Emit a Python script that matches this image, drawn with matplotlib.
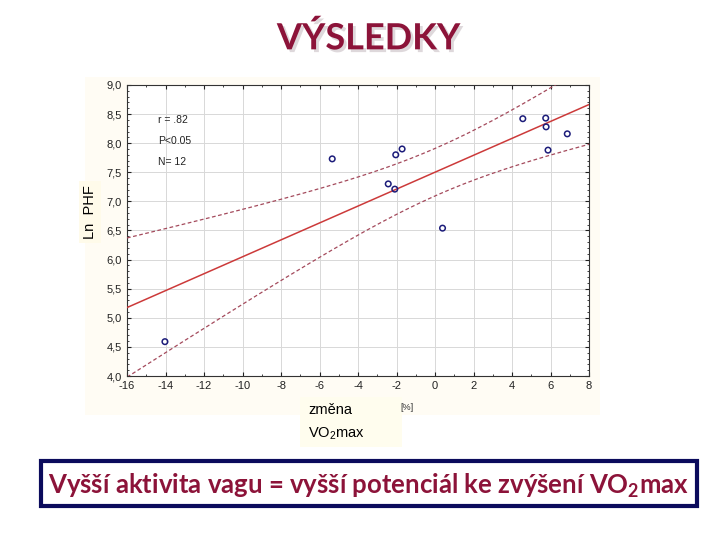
"""Scatter of Ln PHF vs change of VO2max with regression line and 95% CI."""

import matplotlib

matplotlib.use("Agg")
import matplotlib.patheffects as pe
import matplotlib.pyplot as plt
import numpy as np
from matplotlib.patches import Rectangle
from matplotlib.ticker import FuncFormatter, MultipleLocator

plt.rcParams["axes.unicode_minus"] = False
plt.rcParams["mathtext.fontset"] = "custom"
plt.rcParams["mathtext.rm"] = "Liberation Sans"
plt.rcParams["mathtext.bf"] = "Lato:bold"

# data
vo2_change = [4.56, 5.75, 5.77, 6.87, 5.87, -1.71, -2.04, -5.34, -2.43, -2.09, 0.39, -14.03]
ln_phf = [8.42, 8.43, 8.28, 8.16, 7.88, 7.90, 7.80, 7.73, 7.30, 7.21, 6.54, 4.59]
stats_lines = ["r = .82", "P<0.05", "N= 12"]

TITLE_COLOR = "#8c1339"
NAVY = "#0b0b5c"

x = np.array(vo2_change)
y = np.array(ln_phf)
n = len(x)
slope, intercept = np.polyfit(x, y, 1)
resid = y - (slope * x + intercept)
s = np.sqrt(np.sum(resid ** 2) / (n - 2))
sxx = np.sum((x - x.mean()) ** 2)
t_crit = 2.228  # t(0.975, 10)

xs = np.linspace(-16, 8, 200)
fit = slope * xs + intercept
half = t_crit * s * np.sqrt(1 / n + (xs - x.mean()) ** 2 / sxx)

fig = plt.figure(figsize=(7.2, 5.4), dpi=100)
fig.patch.set_facecolor("white")

# cream panel behind the chart
fig.patches.append(
    Rectangle((0.118, 0.231), 0.715, 0.627, transform=fig.transFigure,
              facecolor="#fffcf4", edgecolor="none", zorder=0)
)

ax = fig.add_axes([0.1764, 0.3037, 0.6417, 0.539])
ax.set_zorder(2)
ax.set_facecolor("white")
ax.plot(xs, fit, color="#cc3a3a", linewidth=1.1, zorder=3)
ax.plot(xs, fit + half, color="#a44a5c", linewidth=0.9, linestyle=(0, (3, 2)), zorder=3)
ax.plot(xs, fit - half, color="#a44a5c", linewidth=0.9, linestyle=(0, (3, 2)), zorder=3)
ax.scatter(x, y, s=16, facecolors="none", edgecolors="#1c1c7a", linewidths=1.1, zorder=4)

ax.set_xlim(-16, 8)
ax.set_ylim(4.0, 9.0)
ax.xaxis.set_major_locator(MultipleLocator(2))
ax.xaxis.set_minor_locator(MultipleLocator(1))
ax.yaxis.set_major_locator(MultipleLocator(0.5))
ax.yaxis.set_minor_locator(MultipleLocator(0.1))
ax.yaxis.set_major_formatter(FuncFormatter(lambda v, _: f"{v:.1f}".replace(".", ",")))
ax.tick_params(which="both", direction="in", top=True, right=True,
               labelsize=8, colors="#222222", length=3)
ax.tick_params(which="minor", length=1.5)
for label in ax.get_xticklabels() + ax.get_yticklabels():
    label.set_family("Liberation Sans")
ax.grid(True, which="major", color="#d8d8d8", linewidth=0.7)
ax.set_axisbelow(True)
for spine in ax.spines.values():
    spine.set_color("#333333")
    spine.set_linewidth(0.8)

for i, line in enumerate(stats_lines):
    ax.text(-14.4, 8.40 - i * 0.36, line, fontsize=7.5, family="Liberation Sans",
            va="center", ha="left", color="#222222")

# axis labels placed as on the slide
fig.text(0.1250, 0.607, "Ln  PHF", rotation=90, ha="center", va="center",
         fontsize=10.5, family="Liberation Sans",
         bbox=dict(facecolor="#fffbea", edgecolor="none", pad=3))
fig.patches.append(
    Rectangle((0.416, 0.172), 0.143, 0.093, transform=fig.transFigure,
              facecolor="#fffdee", edgecolor="none", zorder=1)
)
fig.text(0.428, 0.240, "změna", fontsize=10.5, family="Liberation Sans",
         ha="left", va="center", zorder=2)
fig.text(0.428, 0.197, "VO$_2$max", fontsize=10.5, family="Liberation Sans",
         ha="left", va="center", zorder=2)
fig.text(0.556, 0.245, "[%]", fontsize=6.5, family="Liberation Sans",
         ha="left", va="center", color="#333333")

# title with a soft shadow
fig.text(0.512, 0.929, "VÝSLEDKY", fontsize=26, fontweight="bold", family="Lato",
         ha="center", va="center", color=TITLE_COLOR,
         path_effects=[pe.withSimplePatchShadow(offset=(2, -2), shadow_rgbFace="#c8bfc4",
                                                alpha=0.6)])

# conclusion box
fig.patches.append(
    Rectangle((0.057, 0.063), 0.911, 0.084, transform=fig.transFigure,
              facecolor="white", edgecolor=NAVY, linewidth=3, zorder=1)
)
fig.text(0.512, 0.101, r"Vyšší aktivita vagu = vyšší potenciál ke zvýšení VO$_\mathbf{2}$max",
         fontsize=18.5, fontweight="bold", family="Lato", ha="center", va="center",
         color=TITLE_COLOR, zorder=2)

fig.savefig("out.png", dpi=100)
